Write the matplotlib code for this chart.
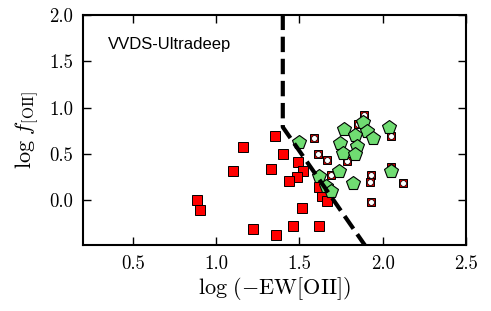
import numpy as np
import matplotlib
matplotlib.use("Agg")
import matplotlib.pyplot as plt

plt.rcParams['mathtext.fontset'] = 'cm'
plt.rcParams['font.family'] = 'serif'
plt.rcParams['font.serif'] = ['cmr10', 'DejaVu Serif']
plt.rcParams['axes.formatter.use_mathtext'] = True

# red squares
sq_x = [1.352, 1.160, 1.400, 1.490, 1.100, 1.328, 1.520, 1.484, 1.436, 0.884,
        0.902, 1.220, 1.358, 1.460, 1.616, 1.514, 1.634, 1.664, 1.616]
sq_y = [0.694, 0.575, 0.500, 0.414, 0.317, 0.339, 0.317, 0.253, 0.210, 0.005,
        -0.102, -0.306, -0.371, -0.274, -0.274, -0.081, 0.048, -0.005, 0.145]

# squares with white circle
sc_x = [1.886, 1.850, 1.586, 1.610, 1.664, 1.784, 1.688, 1.928, 1.922, 2.120,
        1.928, 2.048, 2.048]
sc_y = [0.919, 0.823, 0.672, 0.500, 0.436, 0.425, 0.274, 0.274, 0.199, 0.188,
        -0.016, 0.694, 0.360]

# green pentagons
pt_x = [1.496, 1.766, 1.880, 1.904, 1.832, 1.940, 1.742, 1.844, 1.760, 1.832,
        2.036, 1.736, 1.820, 2.048, 1.616, 1.658, 1.688]
pt_y = [0.629, 0.769, 0.844, 0.747, 0.704, 0.672, 0.618, 0.586, 0.511, 0.500,
        0.790, 0.317, 0.188, 0.317, 0.263, 0.156, 0.102]

# dividing line
line_x = [1.4, 1.4, 1.9]
line_y = [2.0, 0.79, -0.5]

fig = plt.figure(figsize=(4.91, 3.11), dpi=100)
ax = fig.add_axes([0.169, 0.212, 0.780, 0.741])

ax.plot(sq_x, sq_y, 's', color='red', mec='black', mew=0.7, ms=6.5, ls='none', zorder=2)
ax.plot(sc_x, sc_y, 's', color='#cc0000', mec='black', mew=0.7, ms=6, ls='none', zorder=3)
ax.plot(sc_x, sc_y, 'o', color='white', mec='black', mew=0.5, ms=4.2, ls='none', zorder=3)
ax.plot(pt_x, pt_y, 'p', color='#70dc72', mec='black', mew=0.8, ms=10.5, ls='none', zorder=4)
ax.plot(line_x, line_y, '--', color='black', lw=3, zorder=5)

ax.text(0.065, 0.872, 'VVDS-Ultradeep', transform=ax.transAxes, fontsize=12,
        family='Liberation Sans', va='center', ha='left')

ax.set_xlim(0.2, 2.5)
ax.set_ylim(-0.48, 2.0)
ax.set_xticks([0.5, 1.0, 1.5, 2.0, 2.5])
ax.set_yticks([0.0, 0.5, 1.0, 1.5, 2.0])
ax.set_xticklabels(['0.5', '1.0', '1.5', '2.0', '2.5'])
ax.set_yticklabels(['0.0', '0.5', '1.0', '1.5', '2.0'])
ax.tick_params(direction='in', length=6, width=1, top=True, right=True, labelsize=13.5, pad=7)
for s in ax.spines.values():
    s.set_linewidth(1.5)

ax.set_xlabel(r'$\log\,(-\mathrm{EW[OII]})$', fontsize=16, labelpad=2)
ax.set_ylabel(r'$\log\,f_{\rm [OII]}$', fontsize=16, labelpad=6)

fig.savefig('out.png', dpi=100)
